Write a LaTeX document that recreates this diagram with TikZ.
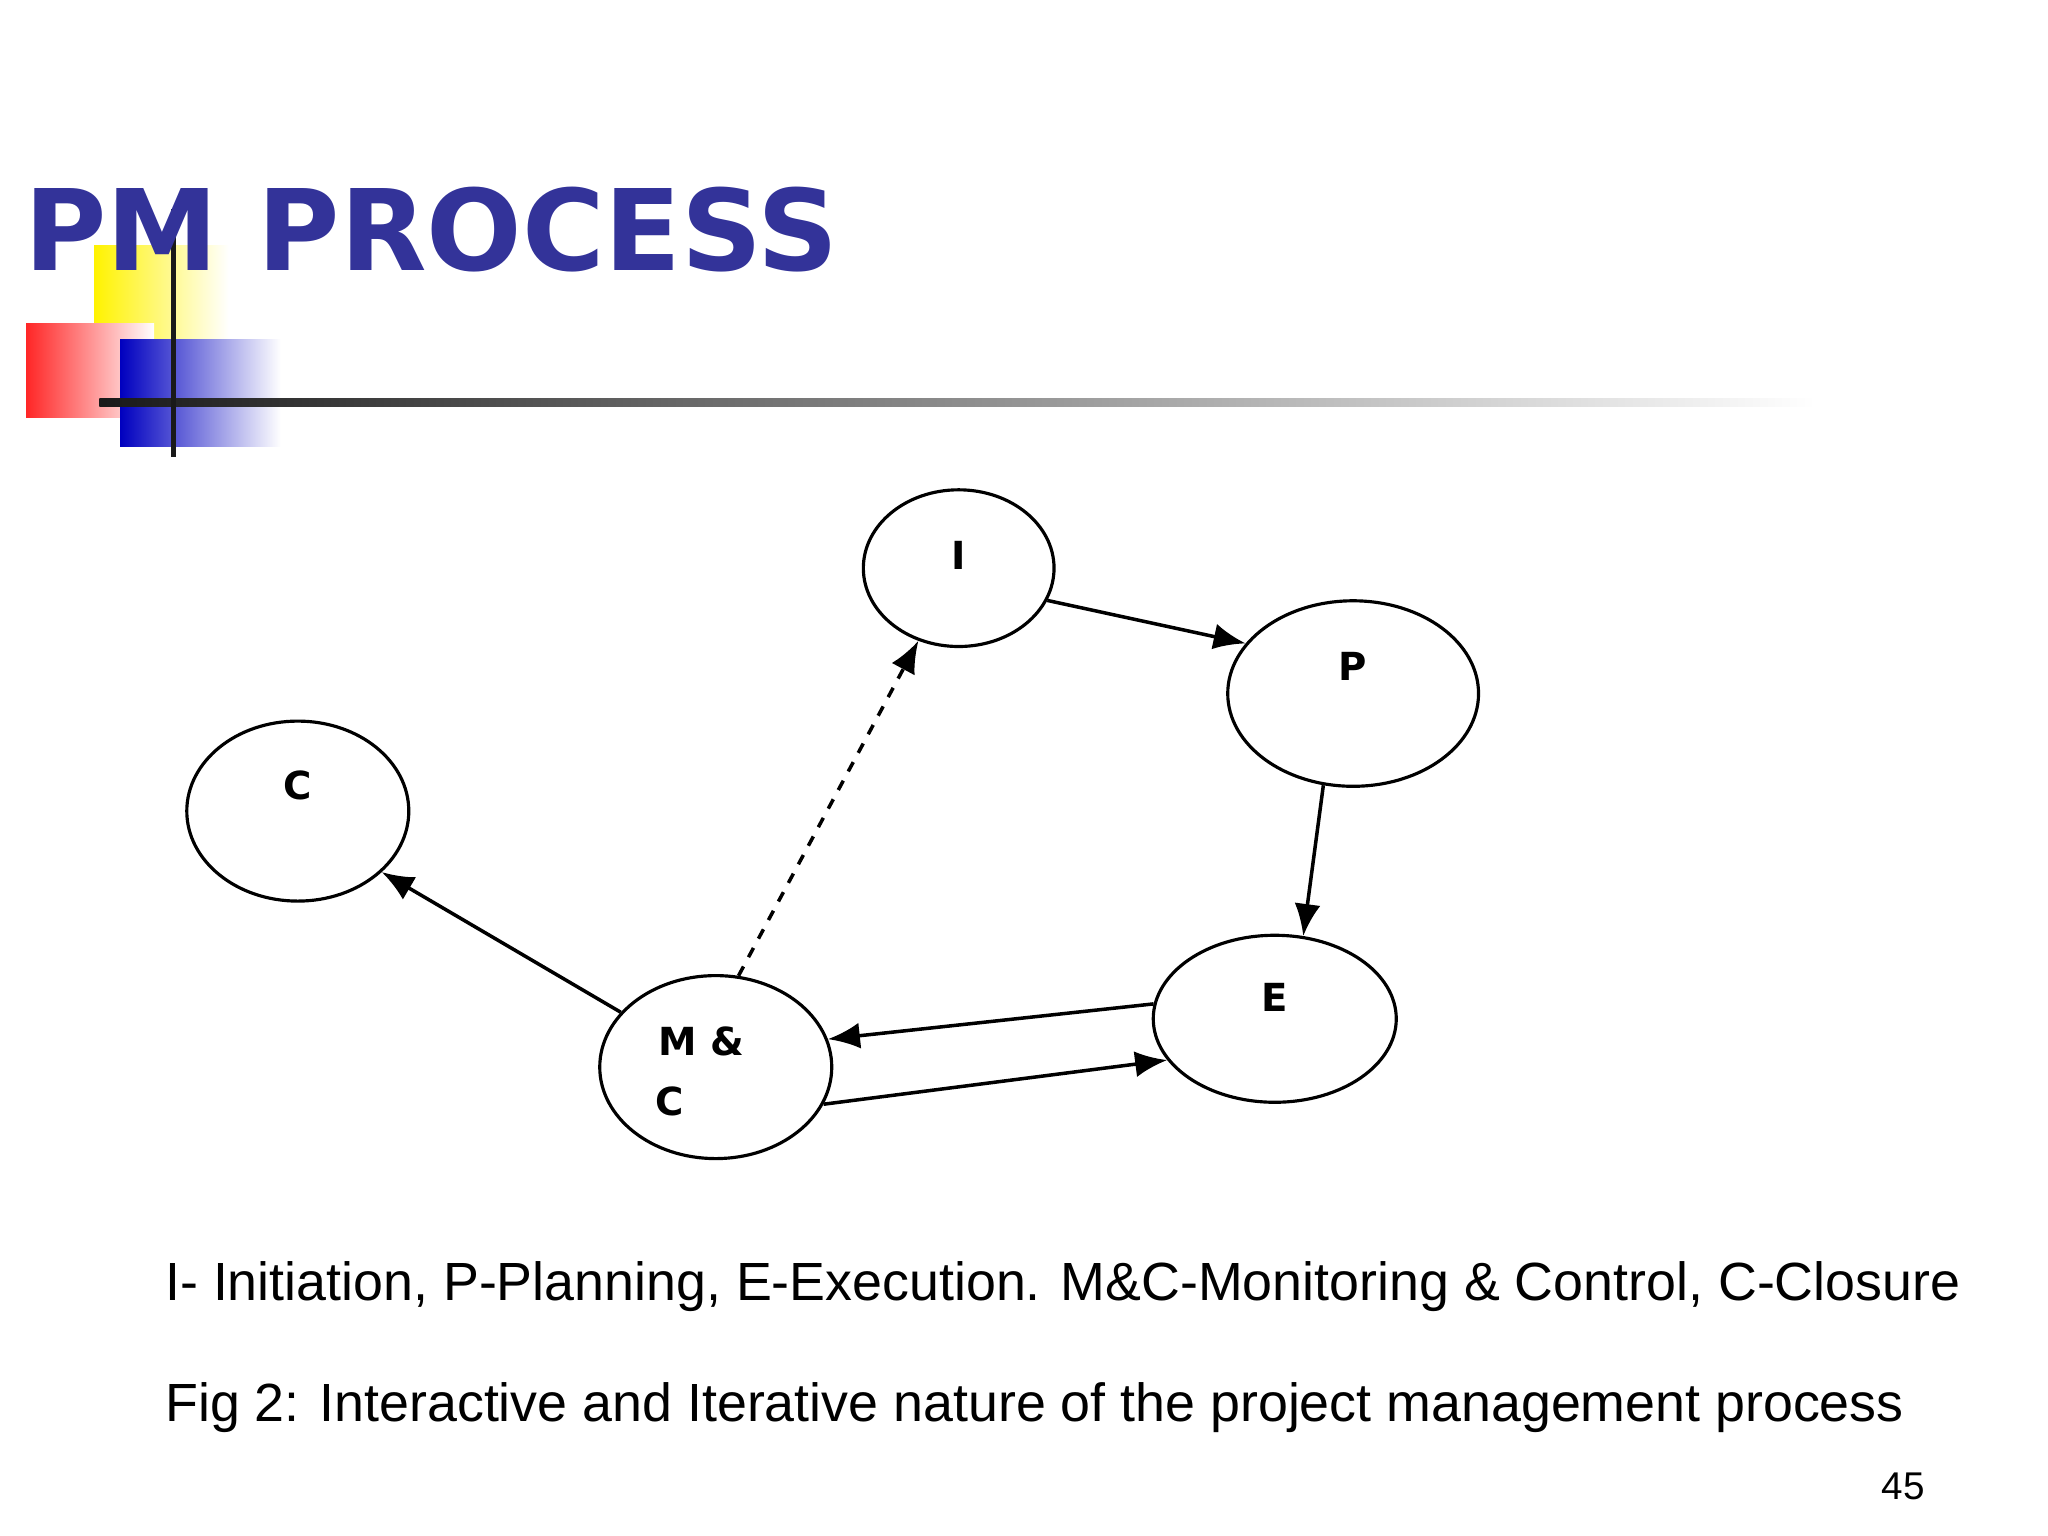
\documentclass[tikz,border=0pt]{standalone}
\usepackage{fontspec}
\setmainfont{Liberation Sans}
\newfontfamily\titlefont{DejaVu Sans}
\usetikzlibrary{arrows.meta,shapes.geometric,positioning}
\definecolor{pmblue}{RGB}{51,51,153}
\begin{document}
\begin{tikzpicture}[x=0.01306cm,y=-0.01306cm,
  phase/.style={ellipse,draw,line width=0.9pt,inner sep=0pt},
  tag/.style={font=\titlefont\bfseries\fontsize{11}{13}\selectfont},
  edge/.style={line width=1pt,-{Latex[length=3.2mm,width=2.6mm]}},
  alternate/.style={line width=1pt,dashed,-{Latex[length=3.2mm,width=2.6mm]}}]
\useasboundingbox (0,0) rectangle (1568,1176);
% decoration
\shade[left color=yellow!90!orange,right color=white] (72,188) rectangle (175,262);
\shade[left color=red!85,right color=white] (20,248) rectangle (118,320);
\shade[left color=blue!75!black,right color=white] (92,260) rectangle (215,342);
\shade[left color=black!90,right color=white] (76,305) rectangle (1390,311);
\fill[black!90] (131,160) rectangle (135,350);
\node[anchor=base west,inner sep=0pt,text=pmblue,font=\titlefont\bfseries\fontsize{32}{36}\selectfont] (title) at (18,207) {PM PROCESS};
% phases
\node(I)[phase,minimum width=1.907cm,minimum height=1.567cm] at (734,435) {};
\node(P)[phase,minimum width=2.508cm,minimum height=1.855cm] at (1036,531) {};
\node(C)[phase,minimum width=2.22cm,minimum height=1.80cm] at (228,621) {};
\node(E)[phase,minimum width=2.43cm,minimum height=1.67cm] at (976,780) {};
\node(MC)[phase,minimum width=2.32cm,minimum height=1.83cm] at (548,817) {};
\node(Ilbl)[tag] at (734,425) {I};
\node(Plbl)[tag] at (1036,510) {P};
\node(Clbl)[tag] at (228,601) {C};
\node(Elbl)[tag] at (976,764) {E};
\node(MClbl1)[tag] at (537,797) {M \&};
\node(MClbl2)[tag] at (513,843) {C};

\draw [edge] (I.-20) to (P.155);
\draw [edge] (P.-108) to (E.71);
\draw [edge] (E.173) to (MC.14);
\draw [edge] (MC.-19) to (E.-159);
\draw [edge] (MC.150) to (C.-36);
\draw [alternate] (MC.76) to (I.-119);
% captions
\node(key)[anchor=base west,inner sep=0pt,font=\fontsize{15.3}{18}\selectfont] at (126,996) {I- Initiation, P-Planning, E-Execution. M\&C-Monitoring \& Control, C-Closure};
\node(fig)[anchor=base west,inner sep=0pt,font=\fontsize{15.3}{18}\selectfont] at (126,1088) {Fig 2: Interactive and Iterative nature of the project management process};
\node(page)[anchor=base,inner sep=0pt,font=\fontsize{11}{13}\selectfont] at (1457,1148) {45};
\end{tikzpicture}
\end{document}
